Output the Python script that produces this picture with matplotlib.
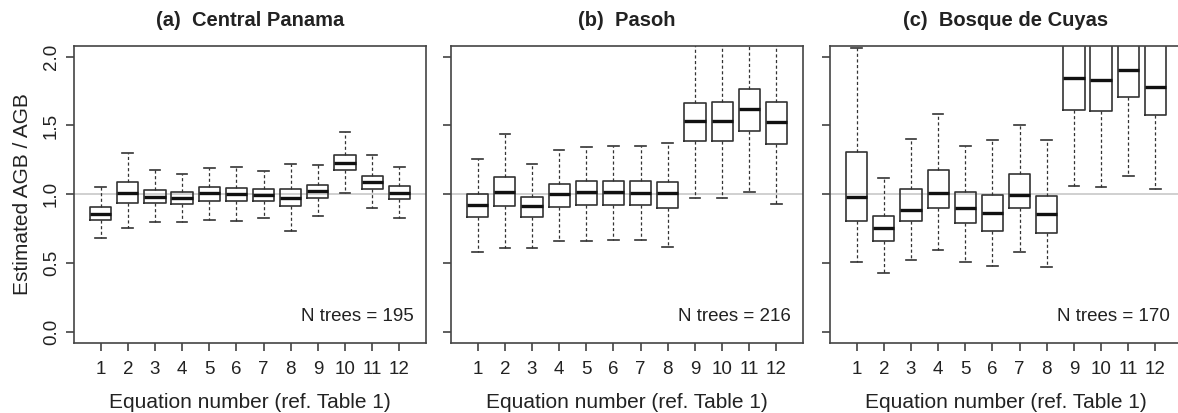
import matplotlib
matplotlib.use("Agg")
import matplotlib.pyplot as plt

plt.rcParams['font.family'] = ['Liberation Sans', 'DejaVu Sans']

equations = list(range(1, 13))
titles = ["(a)  Central Panama", "(b)  Pasoh", "(c)  Bosque de Cuyas"]
n_trees = [195, 216, 170]

# whisker low, lower quartile, median, upper quartile, whisker high
panama_lo = [0.68, 0.753, 0.799, 0.799, 0.811, 0.803, 0.825, 0.731, 0.840, 1.011, 0.897, 0.830]
panama_q1 = [0.81, 0.934, 0.936, 0.929, 0.955, 0.948, 0.953, 0.912, 0.975, 1.175, 1.037, 0.965]
panama_med = [0.854, 1.011, 0.982, 0.972, 1.006, 0.999, 0.992, 0.975, 1.023, 1.230, 1.086, 1.011]
panama_q3 = [0.91, 1.088, 1.028, 1.018, 1.052, 1.047, 1.040, 1.040, 1.071, 1.288, 1.134, 1.061]
panama_hi = [1.054, 1.303, 1.175, 1.151, 1.194, 1.199, 1.170, 1.221, 1.213, 1.455, 1.283, 1.199]

pasoh_lo = [0.579, 0.608, 0.613, 0.659, 0.663, 0.668, 0.668, 0.620, 0.972, 0.972, 1.018, 0.931]
pasoh_q1 = [0.835, 0.912, 0.835, 0.905, 0.922, 0.922, 0.922, 0.900, 1.385, 1.385, 1.462, 1.368]
pasoh_med = [0.922, 1.018, 0.917, 0.999, 1.018, 1.016, 1.013, 1.006, 1.532, 1.532, 1.619, 1.522]
pasoh_q3 = [1.004, 1.129, 0.984, 1.074, 1.100, 1.095, 1.095, 1.090, 1.662, 1.669, 1.764, 1.667]
pasoh_hi = [1.259, 1.435, 1.221, 1.324, 1.346, 1.349, 1.349, 1.373, 2.35, 2.35, 2.45, 2.35]

cuyas_lo = [0.511, 0.427, 0.526, 0.598, 0.507, 0.480, 0.579, 0.473, 1.057, 1.052, 1.134, 1.042]
cuyas_q1 = [0.806, 0.663, 0.806, 0.902, 0.789, 0.731, 0.902, 0.721, 1.616, 1.607, 1.706, 1.575]
cuyas_med = [0.979, 0.753, 0.888, 1.011, 0.902, 0.861, 0.992, 0.856, 1.843, 1.829, 1.906, 1.778]
cuyas_q3 = [1.308, 0.842, 1.042, 1.180, 1.016, 0.992, 1.144, 0.987, 2.25, 2.25, 2.3, 2.2]
cuyas_hi = [2.065, 1.115, 1.404, 1.587, 1.351, 1.392, 1.503, 1.392, 2.9, 2.9, 3.0, 2.8]

panels = [
    (panama_lo, panama_q1, panama_med, panama_q3, panama_hi),
    (pasoh_lo, pasoh_q1, pasoh_med, pasoh_q3, pasoh_hi),
    (cuyas_lo, cuyas_q1, cuyas_med, cuyas_q3, cuyas_hi),
]

txt = '#222222'
edge = '#333333'

fig = plt.figure(figsize=(11.78, 4.13), dpi=100)
lefts = [0.0628, 0.3829, 0.7046]
for k, (lo, q1, med, q3, hi) in enumerate(panels):
    ax = fig.add_axes([lefts[k], 0.1695, 0.2988, 0.72])
    stats = []
    for i in range(len(equations)):
        stats.append(dict(whislo=lo[i], q1=q1[i], med=med[i], q3=q3[i], whishi=hi[i], fliers=[]))
    ax.axhline(1.0, color='#c4c4c4', lw=1.1, zorder=0)
    ax.bxp(stats, positions=equations, widths=0.78, showfliers=False, patch_artist=False,
           boxprops=dict(color=edge, lw=1.2),
           medianprops=dict(color='#111111', lw=2.4, solid_capstyle='butt'),
           whiskerprops=dict(color=edge, lw=0.9, linestyle=(0, (2.5, 2))),
           capprops=dict(color=edge, lw=1.2))
    ax.set_xlim(0.02, 12.98)
    ax.set_ylim(-0.08, 2.08)
    ax.set_xticks(equations)
    ax.set_xticklabels([str(e) for e in equations])
    ax.set_yticks([0.0, 0.5, 1.0, 1.5, 2.0])
    if k == 0:
        ax.set_yticklabels(['0.0', '0.5', '1.0', '1.5', '2.0'], rotation=90, va='center')
        ax.set_ylabel('Estimated AGB / AGB', fontsize=15, color=txt, labelpad=8)
    else:
        ax.set_yticklabels([])
    ax.tick_params(direction='out', length=6, width=1.1, colors=edge, labelcolor=txt,
                   labelsize=13.5, pad=4)
    ax.tick_params(axis='x', pad=7)
    for s in ax.spines.values():
        s.set_color('#444444')
        s.set_linewidth(1.2)
    ax.set_xlabel('Equation number (ref. Table 1)', fontsize=15, color=txt, labelpad=11)
    ax.set_title(titles[k], fontsize=14.5, fontweight='bold', color=txt, pad=14)
    ax.text(0.965, 0.11, f'N trees = {n_trees[k]}', transform=ax.get_yaxis_transform(),
            ha='right', va='center', fontsize=13.5, color=txt)

fig.savefig('out.png', dpi=100)
